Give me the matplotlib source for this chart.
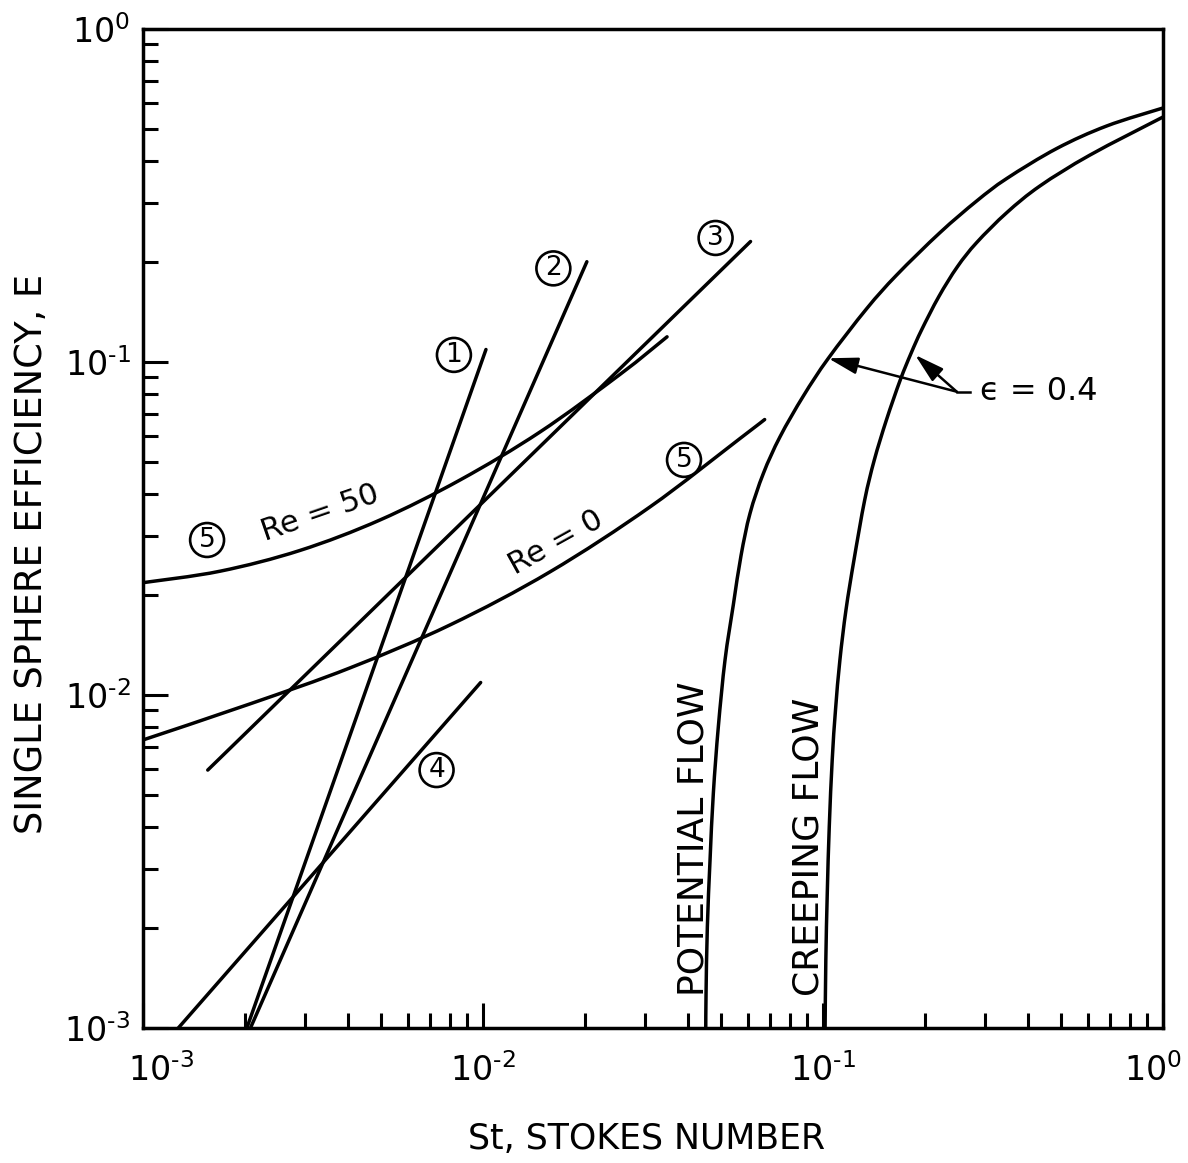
import matplotlib
matplotlib.use("Agg")
import numpy as np
import matplotlib.pyplot as plt
import matplotlib.transforms as mtransforms
from matplotlib.path import Path
from matplotlib.patches import PathPatch
from matplotlib.ticker import LogLocator, NullFormatter

plt.rcParams["font.family"] = ["DejaVu Sans"]
plt.rcParams["mathtext.fontset"] = "dejavusans"
plt.rcParams["mathtext.default"] = "regular"

# ---- axis ticks -------------------------------------------------------
decades = [1e-3, 1e-2, 1e-1, 1e0]
HY = "\u2010"  # short hyphen for the exponent sign
decade_labels = [f"10$^{{{HY}3}}$", f"10$^{{{HY}2}}$", f"10$^{{{HY}1}}$", "10$^{0}$"]

# ---- straight correlations (1)-(4): end points (St, E) ----------------
line1_st = [2.02e-3, 1.02e-2]
line1_e = [1.0e-3, 0.109]
line2_st = [2.07e-3, 2.02e-2]
line2_e = [1.0e-3, 0.200]
line3_st = [1.55e-3, 6.12e-2]
line3_e = [5.95e-3, 0.230]
line4_st = [1.27e-3, 9.84e-3]
line4_e = [1.0e-3, 1.09e-2]

# ---- correlation (5) at two Reynolds numbers --------------------------
re50_st = [1.0e-3, 1.684e-3, 2.896e-3, 4.978e-3, 8.556e-3, 1.471e-2, 2.529e-2, 3.477e-2]
re50_e = [0.02174, 0.02353, 0.02717, 0.03354, 0.04421, 0.06163, 0.09178, 0.1190]
re0_st = [1.0e-3, 2.064e-3, 4.063e-3, 7.996e-3, 1.574e-2, 3.098e-2, 5.700e-2, 6.734e-2]
re0_e = [0.007328, 0.009403, 0.01206, 0.01623, 0.02343, 0.03671, 0.05892, 0.06716]

# ---- bed-porosity curves (eps = 0.4) ----------------------------------
pot_st = [0.04519, 0.04528, 0.04568, 0.04652, 0.04757, 0.04921, 0.05149, 0.05446,
          0.05738, 0.06099, 0.06675, 0.07472, 0.08752, 0.1036, 0.1344, 0.1647,
          0.2208, 0.2832, 0.3470, 0.4868, 0.6828, 1.0]
pot_e = [0.001, 0.001271, 0.002014, 0.003195, 0.005067, 0.008035, 0.01274, 0.01864,
         0.02621, 0.03511, 0.04626, 0.05961, 0.07903, 0.1025, 0.1446, 0.1825,
         0.2446, 0.3045, 0.3556, 0.4376, 0.5113, 0.5791]
creep_st = [0.1014, 0.1019, 0.1029, 0.1043, 0.1064, 0.1088, 0.1121, 0.1168, 0.1233,
            0.1326, 0.1415, 0.1536, 0.1687, 0.1815, 0.1949, 0.2190, 0.2484, 0.2829,
            0.3470, 0.4346, 0.6099, 1.0]
creep_e = [0.001, 0.0016, 0.002538, 0.004023, 0.006379, 0.009016, 0.01274, 0.01800,
           0.02543, 0.03852, 0.05077, 0.06696, 0.08830, 0.1062, 0.1248, 0.1571,
           0.1932, 0.2282, 0.2808, 0.3378, 0.4183, 0.5441]

# ---- circled curve numbers: (label, St, E) ----------------------------
circle_tags = [("1", 8.21e-3, 0.105), ("2", 1.61e-2, 0.191), ("3", 4.83e-2, 0.2357),
               ("4", 7.30e-3, 5.95e-3), ("5", 1.543e-3, 0.0292), ("5", 3.90e-2, 0.0508)]

INK = "black"
LW = 2.5


def smooth_curve(ax, xs, ys, **kw):
    """Draw a smooth curve through (xs, ys) on log-log axes (Catmull-Rom in log space)."""
    pts = np.column_stack([np.log10(xs), np.log10(ys)])
    n = len(pts)
    verts, codes = [pts[0]], [Path.MOVETO]
    for i in range(n - 1):
        p0 = pts[i - 1] if i > 0 else pts[i]
        p1, p2 = pts[i], pts[i + 1]
        p3 = pts[i + 2] if i + 2 < n else pts[i + 1]
        verts += [p1 + (p2 - p0) / 6.0, p2 - (p3 - p1) / 6.0, p2]
        codes += [Path.CURVE4] * 3
    path = Path(10.0 ** np.array(verts), codes)
    ax.add_patch(PathPatch(path, fill=False, transform=ax.transData, **kw))


fig = plt.figure(figsize=(11.88, 11.63), dpi=100)
ax = fig.add_axes([0.1204, 0.1161, 0.8586, 0.8590])
ax.set_xscale("log")
ax.set_yscale("log")
ax.set_xlim(1e-3, 1.0)
ax.set_ylim(1e-3, 1.0)

for st, e in [(line1_st, line1_e), (line2_st, line2_e), (line3_st, line3_e),
              (line4_st, line4_e)]:
    ax.plot(st, e, color=INK, lw=LW, solid_capstyle="round")

for st, e in [(re50_st, re50_e), (re0_st, re0_e), (pot_st, pot_e), (creep_st, creep_e)]:
    smooth_curve(ax, st, e, edgecolor=INK, lw=LW, capstyle="round", joinstyle="round")

for tag, x, y in circle_tags:
    ax.text(x, y, tag, fontsize=19, ha="center", va="center",
            bbox=dict(boxstyle="circle,pad=0.15", fc="white", ec=INK, lw=1.9), zorder=5)

ax.text(3.317e-3, 0.0352, "Re = 50", fontsize=22, rotation=19,
        rotation_mode="anchor", ha="center", va="center")
ax.text(1.640e-2, 0.0286, "Re = 0", fontsize=22, rotation=29,
        rotation_mode="anchor", ha="center", va="center")

ax.text(0.0416, 1.25e-3, "POTENTIAL FLOW", fontsize=26, rotation=90,
        ha="center", va="bottom")
ax.text(0.0907, 1.25e-3, "CREEPING FLOW", fontsize=26, rotation=90,
        ha="center", va="bottom")

# eps = 0.4 callout with two arrows
junction = (0.2473, 0.08142)
ax.plot([junction[0], 0.2706], [junction[1], junction[1]], color=INK, lw=1.8)
for head in [(0.1036, 0.1026), (0.1865, 0.105)]:
    ax.annotate("", xy=head, xytext=junction,
                arrowprops=dict(arrowstyle="-|>,head_length=0.6,head_width=0.17",
                                mutation_scale=30, lw=1.8, color=INK,
                                shrinkA=0, shrinkB=0))
ax.text(0.2896, 0.08142, "\u03f5 = 0.4", fontsize=23, ha="left", va="center")

# axes styling
for sp in ax.spines.values():
    sp.set_linewidth(LW)
ax.set_xticks(decades, decade_labels)
ax.set_yticks(decades, decade_labels)
ax.xaxis.set_minor_locator(LogLocator(base=10, subs=range(2, 10)))
ax.yaxis.set_minor_locator(LogLocator(base=10, subs=range(2, 10)))
ax.xaxis.set_minor_formatter(NullFormatter())
ax.yaxis.set_minor_formatter(NullFormatter())
ax.tick_params(which="major", direction="in", length=18, width=2.2, labelsize=24,
               top=False, right=False)
ax.tick_params(which="minor", direction="in", length=11, width=2.2, top=False, right=False)
ax.tick_params(axis="x", which="major", pad=18)
ax.tick_params(axis="y", which="major", pad=9)

# nudge the two outer St labels clear of the corner and the figure edge
xticks = ax.xaxis.get_major_ticks()
for tick, dx in [(xticks[0], 0.18), (xticks[-1], -0.10)]:
    lbl = tick.label1
    lbl.set_transform(lbl.get_transform()
                      + mtransforms.ScaledTranslation(dx, 0, fig.dpi_scale_trans))

ax.set_ylabel("SINGLE SPHERE EFFICIENCY, E", fontsize=26.5)
ax.yaxis.set_label_coords(-0.091, 0.4745)
ax.set_xlabel("St, STOKES NUMBER", fontsize=25, va="top")
ax.xaxis.set_label_coords(0.494, -0.094)

fig.savefig("out.png", dpi=100)
